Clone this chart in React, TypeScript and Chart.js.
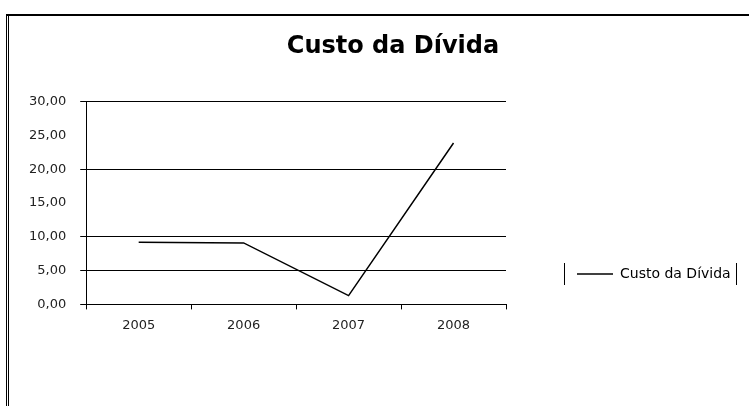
import React, { useEffect, useRef } from "react";
import { Chart, registerables } from "chart.js";

Chart.register(...registerables);

const chartTitle = "Custo da Dívida";
const seriesLabel = "Custo da Dívida";
const years = ["2005", "2006", "2007", "2008"];
const custoDivida = [9.2, 9.1, 1.3, 23.9];
const yTickValues = [0, 5, 10, 15, 20, 25, 30];
const hiddenGridValues = [15, 25];

const FONT = "'DejaVu Sans', Verdana, sans-serif";
const PAD_RIGHT = -22;
const LEGEND_SLOT = 265;

const framePlugin = {
  id: "excelFrame",
  beforeLayout(chart: any) {
    const lg = chart.legend;
    if (lg && !lg.__patched) {
      const orig = lg.fit.bind(lg);
      lg.fit = function () {
        orig();
        this.width = LEGEND_SLOT;
      };
      lg.__patched = true;
    }
  },
  beforeDraw(chart: any) {
    const ctx = chart.ctx;
    ctx.save();
    ctx.fillStyle = "#ffffff";
    ctx.fillRect(0, 0, chart.width, chart.height);
    ctx.fillStyle = "#000000";
    ctx.fillRect(6, 14, chart.width - 6, 2);
    ctx.fillRect(6, 14, 1, chart.height - 14);
    ctx.fillRect(8, 16, 1, chart.height - 16);
    ctx.restore();
  },
  afterLayout(chart: any) {
    const lg = chart.legend;
    if (!lg) return;
    const area = chart.chartArea;
    lg.left = area.right + 58;
    lg.right = lg.left + 172;
    lg.top = 263;
    lg.bottom = 285;
    lg.width = lg.right - lg.left;
    lg.height = lg.bottom - lg.top;
  },
  afterDraw(chart: any) {
    const lg = chart.legend;
    if (!lg) return;
    const ctx = chart.ctx;
    ctx.save();
    ctx.fillStyle = "#000000";
    ctx.fillRect(Math.round(lg.left), lg.top, 1, lg.bottom - lg.top);
    ctx.fillRect(Math.round(lg.right), lg.top, 1, lg.bottom - lg.top);
    ctx.restore();
  },
};

export default function App() {
  const canvasRef = useRef<HTMLCanvasElement | null>(null);

  useEffect(() => {
    const canvas = canvasRef.current;
    if (!canvas) return;
    const chart = new Chart(canvas, {
      type: "line",
      data: {
        labels: years,
        datasets: [
          {
            label: seriesLabel,
            data: custoDivida,
            borderColor: "#000000",
            backgroundColor: "#000000",
            borderWidth: 1.5,
            pointRadius: 0,
            pointHoverRadius: 0,
            tension: 0,
            fill: false,
          },
        ],
      },
      options: {
        responsive: false,
        animation: false,
        devicePixelRatio: 1,
        layout: { padding: { left: 15, right: PAD_RIGHT, top: 0, bottom: 65 } },
        plugins: {
          tooltip: { enabled: false },
          title: {
            display: true,
            text: chartTitle,
            color: "#000000",
            font: { family: FONT, size: 24, weight: "bold" },
            padding: { top: 32, bottom: 41 },
          },
          legend: {
            display: true,
            position: "right",
            align: "center",
            labels: {
              color: "#000000",
              font: { family: FONT, size: 14 },
              usePointStyle: true,
              pointStyle: "line",
              pointStyleWidth: 36,
              padding: 13,
            },
          },
        },
        scales: {
          x: {
            type: "category",
            offset: true,
            grid: {
              display: true,
              offset: true,
              drawOnChartArea: false,
              drawTicks: true,
              tickLength: 5,
              color: "#000000",
            },
            border: { display: true, color: "#000000", width: 1 },
            ticks: {
              color: "#222222",
              font: { family: FONT, size: 13 },
              padding: 8,
              maxRotation: 0,
            },
          },
          y: {
            min: yTickValues[0],
            max: yTickValues[yTickValues.length - 1],
            grid: {
              display: true,
              drawTicks: true,
              tickLength: 6,
              lineWidth: 1,
              color: (c: any) =>
                c.tick && hiddenGridValues.includes(c.tick.value)
                  ? "rgba(0,0,0,0)"
                  : "#000000",
            },
            border: { display: true, color: "#000000", width: 1 },
            ticks: {
              stepSize: yTickValues[1] - yTickValues[0],
              color: "#222222",
              font: { family: FONT, size: 13 },
              padding: 14,
              callback: (v: any) => Number(v).toFixed(2).replace(".", ","),
            },
          },
        },
      },
      plugins: [framePlugin],
    });
    return () => chart.destroy();
  }, []);

  return (
    <div style={{ position: "absolute", left: 0, top: 0, width: 749, height: 406 }}>
      <canvas ref={canvasRef} width={749} height={406} style={{ display: "block" }} />
    </div>
  );
}
